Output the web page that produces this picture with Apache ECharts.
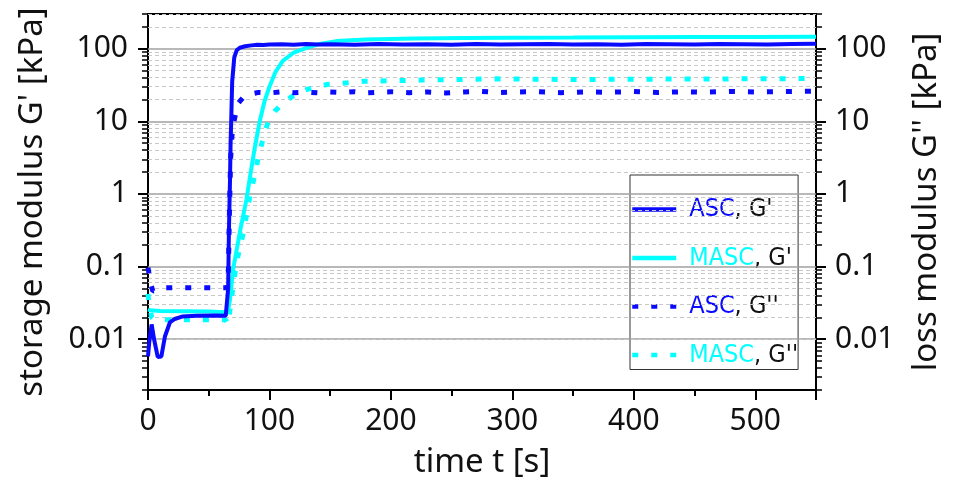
<!DOCTYPE html>
<html>
<head>
<meta charset="utf-8">
<script src="https://cdn.jsdelivr.net/npm/echarts@6/dist/echarts.min.js"></script>
<style>html,body{margin:0;padding:0;background:#fff}#c{width:957px;height:484px}</style>
</head>
<body>
<div id="c"></div>
<script>
// ---- data (time in s, moduli in kPa) ----
const seriesNames = ["ASC, G'", "MASC, G'", "ASC, G''", "MASC, G''"];

const ascStorageT = [0,1,3,5,8,11,14,18,22,28,40,55,64,65.5,66,66.6,67.5,68,68.5,69.3,71,73,75.6,80,85,90,95,100,110,120,130,140,150,170,190,210,230,250,270,290,310,330,350,370,390,410,430,450,470,490,510,530,550];
const ascStorageV = [0.0058,0.009,0.016,0.010,0.0057,0.0058,0.011,0.017,0.019,0.0205,0.021,0.0212,0.021,0.020,0.05,0.29,1.5,5,10,35,75,95,103,108,111,113,112,114,115,113,116,114,115,113,116,114,115,113,116,114,115,116,114,115,113,116,115,114,116,115,114,116,117];

const mascStorageT = [0,2,10,30,50,63,65,66.5,67.5,70,73,76,81,85,88,92,96,100,105,111,120,130,140,155,180,220,260,300,350,400,450,500,550];
const mascStorageV = [0.0258,0.025,0.0245,0.0243,0.024,0.0236,0.0235,0.028,0.035,0.09,0.17,0.32,0.83,2.2,4.4,10,19,30,48,68,88,102,115,127,134,138,140,141,142,144,145,145,146];

const ascLossT = [0,2,4,6,12,20,30,40,50,60,65,66,67,68,69.5,71.5,74,78,81,86,91,100,110,120,130,140,150,160,170,180,190,200,215,230,245,260,275,290,305,320,340,360,380,400,420,440,460,480,500,520,540,550];
const ascLossV = [0.097,0.06,0.046,0.047,0.051,0.051,0.051,0.051,0.051,0.051,0.051,0.06,0.5,3,8,11.3,17.5,21,22,24,25,24.5,25.5,24.8,25.3,24.6,25.4,24.9,25.6,24.7,25.2,25.5,24.8,25.3,24.6,25.4,25.8,24.9,25.3,25.6,24.8,25.4,25.1,25.7,24.9,25.5,25.2,25.8,25.3,25.6,25.9,26];

const mascLossT = [0,1,3,5,20,40,60,64,66,68,71,75,78.5,81,84,87.5,90.8,95,99,104.5,111.4,121,130.6,147,177,224,287,347,400,450,500,550];
const mascLossV = [0.042,0.03,0.02,0.0185,0.0185,0.0185,0.0185,0.0185,0.016,0.03,0.07,0.17,0.29,0.5,0.96,1.7,3.2,6,10,13.8,18,23.4,27.4,32,35.5,36.9,38.4,37.6,38,38.2,38.5,38.8];

const xTicks = [0,100,200,300,400,500];
const yMajor = [0.01,0.1,1,10,100];
// ---- end data ----

const yMin = 0.002, yMax = 300;
const yMinor = [];
[0.001,0.01,0.1,1,10,100].forEach(d => { for (let k = 2; k <= 9; k++) { const v = +(k*d).toPrecision(3); if (v >= yMin && v <= yMax) yMinor.push(v); } });

function pairs(t, v) { return t.map((x, i) => [x, v[i]]); }

const BLUE = '#0a0aff', CYAN = '#00ffff';
const FONT = "'Noto Sans', 'Open Sans', sans-serif";
const NARROW = "'Liberation Sans Narrow', 'DejaVu Sans Condensed', sans-serif";

const gridLines = [];
yMajor.forEach(v => gridLines.push({yAxis: v, lineStyle: {color: '#a0a0a0', width: 1.5, type: 'solid'}}));
yMinor.forEach(v => gridLines.push({yAxis: v, lineStyle: {color: '#c8c8c8', width: 1, type: [4, 3]}}));

const chart = echarts.init(document.getElementById('c'), null, {renderer: 'canvas'});

const baseY = {type: 'log', logBase: 10, min: yMin, max: yMax, splitLine: {show: false}};
const labelStyle = {fontSize: 30, color: '#111', fontFamily: FONT};
const nameStyle = {fontSize: 33, color: '#111', fontFamily: FONT};

chart.setOption({
  animation: false,
  backgroundColor: '#fff',
  grid: {left: 148, right: 141, top: 14, bottom: 93, show: true, borderColor: '#000', borderWidth: 2, backgroundColor: 'transparent'},
  xAxis: [{
    type: 'value', min: 0, max: 550, interval: 100,
    axisLine: {show: true, onZero: false, lineStyle: {color: '#000', width: 2}},
    axisTick: {show: true, inside: false, length: 10, lineStyle: {color: '#000', width: 2}},
    minorTick: {show: true, splitNumber: 2, length: 6, lineStyle: {color: '#000', width: 2}},
    axisLabel: Object.assign({margin: 16, customValues: xTicks}, labelStyle),
    splitLine: {show: false},
    name: 'time t [s]', nameLocation: 'middle', nameGap: 56,
    nameTextStyle: nameStyle
  }],
  yAxis: [
    Object.assign({}, baseY, {
      position: 'left',
      axisLine: {show: true, lineStyle: {color: '#000', width: 2}},
      axisTick: {show: true, inside: false, length: 10, customValues: yMajor, lineStyle: {color: '#000', width: 2}},
      axisLabel: Object.assign({margin: 20, customValues: yMajor, formatter: v => String(+v.toPrecision(3))}, labelStyle),
      name: "storage modulus G' [kPa]", nameLocation: 'middle', nameGap: 99, nameRotate: 90,
      nameTextStyle: nameStyle
    }),
    Object.assign({}, baseY, {
      position: 'left',
      axisLine: {show: false},
      axisTick: {show: true, inside: false, length: 6, customValues: yMinor, lineStyle: {color: '#000', width: 1.5}},
      axisLabel: {show: false}
    }),
    Object.assign({}, baseY, {
      position: 'right',
      axisLine: {show: true, lineStyle: {color: '#000', width: 2}},
      axisTick: {show: true, inside: false, length: 10, customValues: yMajor, lineStyle: {color: '#000', width: 2}},
      axisLabel: Object.assign({margin: 19, customValues: yMajor, formatter: v => String(+v.toPrecision(3))}, labelStyle),
      name: "loss modulus G'' [kPa]", nameLocation: 'middle', nameGap: 94, nameRotate: 90,
      nameTextStyle: nameStyle
    }),
    Object.assign({}, baseY, {
      position: 'right',
      axisLine: {show: false},
      axisTick: {show: true, inside: false, length: 6, customValues: yMinor, lineStyle: {color: '#000', width: 1.5}},
      axisLabel: {show: false}
    })
  ],
  legend: {
    data: seriesNames,
    orient: 'vertical',
    left: 630, top: 175,
    padding: [22, 0, 2, 0],
    itemWidth: 44, itemHeight: 14, itemGap: 23.5,
    backgroundColor: '#fff', borderColor: '#333', borderWidth: 1,
    itemStyle: {opacity: 0},
    lineStyle: {width: 4.5},
    formatter: name => {
      const parts = name.split(', ');
      const cls = parts[0] === 'ASC' ? 'a' : 'm';
      return '{s|}{' + cls + '|' + parts[0] + '}{k|, ' + parts[1] + '}';
    },
    textStyle: {
      fontFamily: NARROW, fontSize: 25, color: '#111',
      rich: {
        s: {width: 8},
        a: {color: BLUE, fontFamily: NARROW, fontSize: 25},
        m: {color: CYAN, fontFamily: NARROW, fontSize: 25},
        k: {color: '#111', fontFamily: NARROW, fontSize: 25}
      }
    }
  },
  series: [
    {
      name: 'grid', type: 'line', data: [[0, 1]], symbol: 'none', lineStyle: {opacity: 0}, z: 1, silent: true,
      markLine: {silent: true, symbol: ['none', 'none'], label: {show: false}, animation: false, data: gridLines}
    },
    {name: seriesNames[0], type: 'line', data: pairs(ascStorageT, ascStorageV), symbol: 'none', z: 10,
     itemStyle: {color: BLUE}, lineStyle: {color: BLUE, width: 4}},
    {name: seriesNames[1], type: 'line', data: pairs(mascStorageT, mascStorageV), symbol: 'none', z: 9,
     itemStyle: {color: CYAN}, lineStyle: {color: CYAN, width: 4}},
    {name: seriesNames[2], type: 'line', data: pairs(ascLossT, ascLossV), symbol: 'none', z: 11,
     itemStyle: {color: BLUE}, lineStyle: {color: BLUE, width: 5, type: [6, 13], cap: 'butt'}},
    {name: seriesNames[3], type: 'line', data: pairs(mascLossT, mascLossV), symbol: 'none', z: 8,
     itemStyle: {color: CYAN}, lineStyle: {color: CYAN, width: 5, type: [6, 13], cap: 'butt'}}
  ]
});
</script>
</body>
</html>
